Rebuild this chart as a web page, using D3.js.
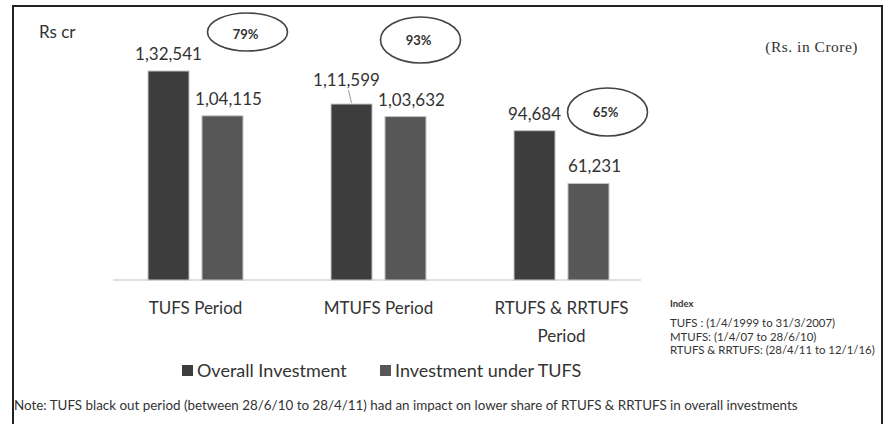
<!DOCTYPE html>
<html>
<head>
<meta charset="utf-8">
<script src="https://cdn.jsdelivr.net/npm/d3@7"></script>
<style>
  html, body { margin: 0; padding: 0; background: #fff; }
  svg { display: block; }
  text { font-family: Lato, "Open Sans", sans-serif; fill: #333; }
</style>
</head>
<body>
<svg id="chart" width="892" height="424"></svg>
<script>
// ---- data ----
const categories = ["TUFS Period", "MTUFS Period", "RTUFS & RRTUFS Period"];
const seriesNames = ["Overall Investment", "Investment under TUFS"];
const overallInvestment = [132541, 111599, 94684];
const investmentUnderTUFS = [104115, 103632, 61231];
const shareLabels = ["79%", "93%", "65%"];
const indexTitle = "Index";
const indexLines = [
  "TUFS : (1/4/1999 to 31/3/2007)",
  "MTUFS: (1/4/07 to 28/6/10)",
  "RTUFS & RRTUFS: (28/4/11 to 12/1/16)"
];
const unitLabel = "Rs cr";
const unitNote = "(Rs. in Crore)";
const footNote = "Note: TUFS black out period (between 28/6/10 to 28/4/11) had an impact on lower share of RTUFS & RRTUFS  in overall investments";

// ---- layout ----
const svg = d3.select("#chart");
const W = 892, H = 424;
const colors = ["#3d3d3d", "#575757"];
const fmtIN = v => {
  const s = String(v);
  const last3 = s.slice(-3);
  let rest = s.slice(0, -3);
  if (!rest) return last3;
  rest = rest.replace(/\B(?=(\d{2})+(?!\d))/g, ",");
  return rest + "," + last3;
};

const rows = categories.map((c, i) => ({
  cat: c,
  values: [overallInvestment[i], investmentUnderTUFS[i]],
  share: shareLabels[i]
}));

const x0 = d3.scaleBand().domain(categories).range([104, 653])
  .paddingInner(0.481).paddingOuter(0.2405);
const x1 = d3.scaleBand().domain([0, 1]).range([0, x0.bandwidth()])
  .paddingInner(0.24).paddingOuter(0);
const y = d3.scaleLinear().domain([0, d3.max(overallInvestment)]).range([280, 71]);

// frame
svg.append("path")
  .attr("d", `M13,${H + 2}V6H882V${H + 2}`)
  .attr("fill", "none").attr("stroke", "#222").attr("stroke-width", 2);

// axis
const axis = svg.append("g").attr("transform", `translate(0,${y(0)})`)
  .call(d3.axisBottom(x0).tickSize(0).tickPadding(22));
axis.select(".domain")
  .attr("d", `M${x0.range()[0] + 9},0H${x0.range()[1] - 12}`)
  .attr("stroke", "#d6d6d6").attr("stroke-width", 1.5);
axis.selectAll("text")
  .style("font-family", "Lato, sans-serif").style("font-size", "17px").attr("fill", "#474747")
  .each(function (d) {
    const t = d3.select(this);
    const words = d.split(" ");
    const maxW = x0.step() * 0.8;
    t.text(null);
    let line = [];
    let tspan = t.append("tspan").attr("x", 0).attr("dy", "0.71em");
    words.forEach(w => {
      line.push(w);
      tspan.text(line.join(" "));
      if (tspan.node().getComputedTextLength() > maxW && line.length > 1) {
        line.pop();
        tspan.text(line.join(" "));
        line = [w];
        tspan = t.append("tspan").attr("x", 0).attr("dy", "28px").text(w);
      }
    });
  });

// bars
const groups = svg.append("g").selectAll("g").data(rows).join("g")
  .attr("transform", d => `translate(${x0(d.cat)},0)`);

groups.selectAll("rect").data(d => d.values.map((v, k) => ({ v, k }))).join("rect")
  .attr("x", d => x1(d.k))
  .attr("y", d => y(d.v))
  .attr("width", x1.bandwidth())
  .attr("height", d => y(0) - y(d.v))
  .attr("fill", d => colors[d.k])
  .attr("stroke", "#c4c4c4").attr("stroke-width", 1);

// value labels
groups.each(function (d, i) {
  const g = d3.select(this);
  d.values.forEach((v, k) => {
    const callout = (i === 1 && k === 0);
    const cx = x1(k) + x1.bandwidth() / 2 + (k === 1 ? 6 : 0) + (callout ? -5 : 0);
    const raise = callout ? 18 : 11;
    g.append("text")
      .attr("x", cx).attr("y", y(v) - raise)
      .attr("text-anchor", "middle")
      .style("font-size", "17px").attr("fill", "#333")
      .text(fmtIN(v));
    if (callout) {
      g.append("line")
        .attr("x1", cx + 2).attr("y1", y(v) - 14)
        .attr("x2", cx + 5).attr("y2", y(v) - 1)
        .attr("stroke", "#999").attr("stroke-width", 1);
    }
  });
});

// share ovals
const ovalOffsets = [[52, 32], [42, 40], [46, 112]];
const ovalR = [[40, 19], [40, 23], [40, 24]];
rows.forEach((d, i) => {
  const cx = x0(d.cat) + x0.bandwidth() / 2 + ovalOffsets[i][0];
  const cy = ovalOffsets[i][1];
  svg.append("ellipse")
    .attr("cx", cx).attr("cy", cy)
    .attr("rx", ovalR[i][0]).attr("ry", ovalR[i][1])
    .attr("fill", "none").attr("stroke", "#444").attr("stroke-width", 1.6);
  svg.append("text")
    .attr("x", cx - 2).attr("y", cy + 5 + (i === 0 ? 2 : 0))
    .attr("text-anchor", "middle")
    .style("font-size", "13px").style("font-weight", "bold").attr("fill", "#333")
    .text(d.share);
});

// top-left and top-right unit labels
svg.append("text").attr("x", 39).attr("y", 38)
  .style("font-size", "17px").attr("fill", "#555").text(unitLabel);
svg.append("text").attr("x", 858).attr("y", 52).attr("text-anchor", "end")
  .style("font-family", "'Liberation Serif', serif").style("font-size", "15.5px")
  .style("letter-spacing", "0.5px")
  .attr("fill", "#444").text(unitNote);

// legend
const legend = svg.append("g");
const legendX = [182, 380];
seriesNames.forEach((n, k) => {
  legend.append("rect").attr("x", legendX[k]).attr("y", 365)
    .attr("width", 11).attr("height", 11).attr("fill", colors[k]);
  legend.append("text").attr("x", legendX[k] + 15).attr("y", 377)
    .style("font-size", "18px").attr("fill", "#474747").text(n);
});

// index block
const idx = svg.append("g").attr("transform", "translate(670,0)");
idx.append("text").attr("x", 0).attr("y", 307)
  .style("font-size", "9.5px").style("font-weight", "bold").attr("fill", "#333").text(indexTitle);
indexLines.forEach((l, i) => {
  idx.append("text").attr("x", 0).attr("y", 327 + i * 13.5)
    .style("font-size", "11.4px").attr("fill", "#333").text(l);
});

// footnote
svg.append("text").attr("x", 14).attr("y", 410)
  .style("font-size", "13.4px").attr("fill", "#333").text(footNote);
</script>
</body>
</html>
